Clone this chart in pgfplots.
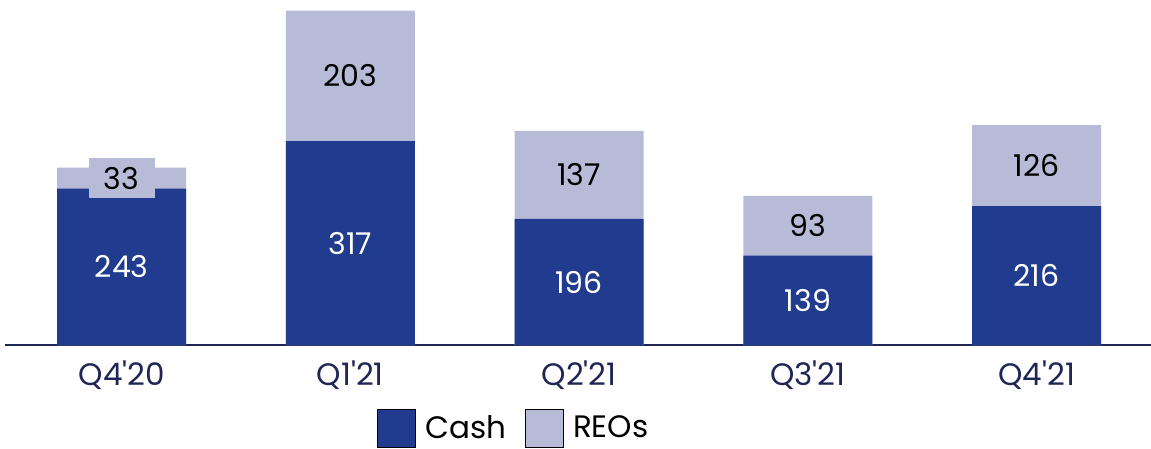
\documentclass[border=0pt]{standalone}
\usepackage{pgfplots}
\pgfplotsset{compat=1.18}
\usepackage{fontspec}
\setmainfont{Poppins}
\definecolor{cash}{RGB}{33,59,142}
\definecolor{reo}{RGB}{184,187,216}
\definecolor{navy}{RGB}{31,37,85}
\begin{document}
\begin{tikzpicture}
\begin{axis}[
  scale only axis, width=1146pt, height=345pt,
  xmin=-0.51, xmax=4.5, ymin=0, ymax=536.5,
  axis x line*=bottom, axis y line=none,
  x axis line style={draw=navy, line width=2pt, -},
  xtick={0,1,2,3,4},
  xticklabels={Q4\textquotesingle20,Q1\textquotesingle21,Q2\textquotesingle21,Q3\textquotesingle21,Q4\textquotesingle21},
  major tick length=0pt, ytick=\empty,
  xticklabel style={font=\fontsize{31}{31}\selectfont, text=navy, yshift=-12pt},
  legend style={at={(0.444,-0.24)}, anchor=center, draw=none, fill=none,
    legend columns=2, font=\fontsize{31}{31}\selectfont,
    /tikz/every odd column/.append style={column sep=8pt},
    /tikz/every even column/.append style={column sep=16pt}},
  legend image code/.code={\fill[#1] (0pt,-19pt) rectangle (38pt,19pt);},
]
\addplot[ybar, bar width=129pt, bar shift=0pt, fill=reo, draw=none, forget plot]
  coordinates {(0,276)(1,520)(2,333)(3,232)(4,342)};
\addplot[ybar, bar width=129pt, bar shift=0pt, fill=cash, draw=none, forget plot]
  coordinates {(0,243)(1,317)(2,196)(3,139)(4,216)};
\addplot[draw=none, mark=none, forget plot, nodes near coords, point meta=explicit symbolic,
  every node near coord/.style={anchor=center, text=white, font=\fontsize{30}{30}\selectfont}]
  coordinates {(0,121.5)[243] (1,158.5)[317] (2,98)[196] (3,69.5)[139] (4,108)[216]};
\addplot[draw=none, mark=none, forget plot, nodes near coords, point meta=explicit symbolic,
  every node near coord/.style={anchor=center, text=black, fill=reo, inner sep=0pt,
    minimum width=66pt, minimum height=40pt, font=\fontsize{30}{30}\selectfont}]
  coordinates {(0,259.5)[33] (1,418.5)[203] (2,264.5)[137] (3,185.5)[93] (4,279)[126]};
\addlegendimage{fill=cash}
\addlegendentry{Cash}
\addlegendimage{fill=reo}
\addlegendentry{REOs}
\end{axis}
\pgfresetboundingbox
\path (-5pt,-103pt) rectangle (1146pt,345pt);
\end{tikzpicture}
\end{document}
